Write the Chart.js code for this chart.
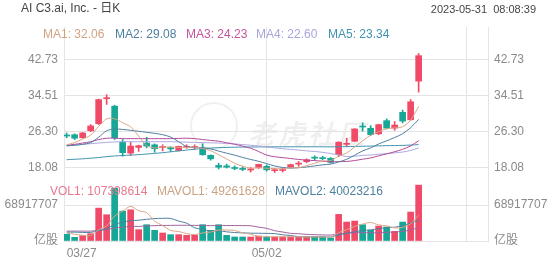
<!DOCTYPE html>
<html lang="zh">
<head>
<meta charset="UTF-8">
<title>AI C3.ai, Inc. - 日K</title>
<script src="https://cdn.jsdelivr.net/npm/chart.js"></script>
<style>
    body { margin: 0; background: #fff; font-family: 'Liberation Sans', Arial, 'Noto Sans CJK SC', sans-serif; }
    #wrap { position: relative; width: 552px; height: 265px; overflow: hidden; }
    .t { position: absolute; font-size: 12px; line-height: 14px; white-space: pre; }
    #kChart { position: absolute; left: 0; top: 0; }
    #volChart { position: absolute; left: 0; top: 180px; }
    #wm { position: absolute; left: 248px; top: 113px; font-size: 27px; font-weight: bold; font-style: italic;
          color: rgba(0,0,0,0.07); font-family: 'Noto Sans CJK SC', sans-serif; letter-spacing: 3px; }
    #wmRing { position: absolute; left: 190px; top: 102px; width: 44px; height: 44px; border-radius: 50%;
              border: 2px solid rgba(0,0,0,0.06); }
</style>
</head>
<body>
<div id="wrap">
    <div id="wmRing"></div>
    <div id="wm">老虎社区</div>
    <canvas id="kChart" width="552" height="180"></canvas>
    <canvas id="volChart" width="552" height="85"></canvas>

    <div class="t" style="left:21px;top:1px;color:#444">AI C3.ai, Inc. - 日K</div>
    <div class="t" style="right:16px;top:2px;color:#444;font-size:11px">2023-05-31  08:08:39</div>

    <div class="t" style="left:43px;top:27px;color:#d2a27f">MA1: 32.06</div>
    <div class="t" style="left:115px;top:27px;color:#4d7f9f">MA2: 29.08</div>
    <div class="t" style="left:186px;top:27px;color:#c2559a">MA3: 24.23</div>
    <div class="t" style="left:256px;top:27px;color:#a6a6dc">MA4: 22.60</div>
    <div class="t" style="left:328px;top:27px;color:#3f93b0">MA5: 23.34</div>

    <div class="t" style="left:50px;top:184px;color:#e8788c">VOL1: 107398614</div>
    <div class="t" style="left:157px;top:184px;color:#c9a283">MAVOL1: 49261628</div>
    <div class="t" style="left:275px;top:184px;color:#4d7f9f">MAVOL2: 40023216</div>
</div>

<script>
    // 交易日
    const dates = ['03/27','03/28','03/29','03/30','03/31','04/03','04/04','04/05','04/06','04/10',
                   '04/11','04/12','04/13','04/14','04/17','04/18','04/19','04/20','04/21','04/24',
                   '04/25','04/26','04/27','04/28','05/01','05/02','05/03','05/04','05/05','05/08',
                   '05/09','05/10','05/11','05/12','05/15','05/16','05/17','05/18','05/19','05/22',
                   '05/23','05/24','05/25','05/26','05/30'];

    // K线 (开 高 低 收)
    const opens  = [25.5,25.6,24.9,26.5,28.1,33.8,32.1,23.9,21.4,22.7,23.7,23.3,22.7,22.7,22.0,22.7,22.7,22.35,20.9,18.6,
                    18.5,18.1,17.9,17.55,18.16,18.4,17.4,17.45,18.23,18.9,19.45,20.35,20.3,20.2,21.05,23.4,24.1,27.45,27.06,25.8,
                    28.8,27.1,30.7,29.0,37.8];
    const highs  = [26.0,25.8,26.1,27.9,33.7,34.7,32.3,24.5,23.9,23.2,25.0,23.5,23.3,22.9,23.0,23.3,23.3,23.56,21.0,19.1,
                    18.9,18.5,18.3,18.1,18.9,18.7,17.9,17.9,18.9,19.5,20.1,20.8,20.7,20.4,24.0,24.8,27.0,28.3,27.67,28.0,
                    29.2,28.6,31.2,33.6,44.1];
    const lows   = [24.9,24.5,24.8,26.3,27.9,32.5,24.5,20.7,20.9,21.8,22.6,21.6,21.9,21.8,21.9,22.5,22.2,20.9,19.8,17.8,
                    18.0,17.6,17.4,17.1,17.9,17.3,17.0,17.1,18.0,18.4,19.2,19.8,19.9,19.1,20.6,22.9,24.0,26.4,25.4,25.6,
                    26.9,26.6,28.3,28.9,35.3];
    const closes = [25.3,24.8,26.0,27.6,33.6,34.0,24.9,21.5,23.0,23.1,23.0,22.4,22.85,22.35,22.95,22.9,22.85,21.05,20.1,18.2,
                    18.2,17.9,17.7,17.7,18.84,17.6,17.5,17.55,18.77,19.0,19.9,20.25,20.15,19.3,23.9,23.6,26.9,27.35,25.6,27.9,
                    27.1,27.8,28.7,33.1,43.6];

    // 均线
    const ma1 = [23.3,23.8,24.6,25.5,27.46,29.2,29.22,28.32,27.4,25.3,23.1,22.6,22.87,22.74,22.71,22.69,22.78,22.42,21.97,21.02,
                 20.08,19.09,18.42,17.94,18.07,17.95,17.87,17.84,18.05,18.08,18.54,19.09,19.61,19.72,20.7,21.44,22.77,24.21,25.47,26.27,
                 26.97,27.15,27.42,28.92,32.06];
    const ma2 = [23.1,23.2,23.4,23.8,25.0,26.5,26.9,26.8,26.6,26.38,26.15,25.91,25.6,25.07,24.0,22.9,22.69,22.65,22.36,21.87,
                 21.39,20.94,20.42,19.96,19.54,19.01,18.48,18.13,18.0,18.08,18.25,18.48,18.73,18.89,19.39,19.99,20.93,21.91,22.6,23.49,
                 24.2,24.96,25.82,27.2,29.08];
    const ma3 = [23.2,23.4,23.7,24.0,24.5,24.8,24.8,24.7,24.7,24.7,24.7,24.7,24.7,24.7,24.75,24.8,24.7,24.5,24.3,24.12,
                 23.76,23.42,23.0,22.51,21.77,20.95,20.58,20.38,20.17,19.97,19.81,19.7,19.57,19.42,19.46,19.5,19.71,20.02,20.3,20.78,
                 21.23,21.72,22.27,23.04,24.23];
    const ma4 = [23.0,23.2,23.4,23.55,23.7,23.85,23.95,24.0,24.0,24.0,24.0,24.0,24.0,24.0,23.95,23.9,23.85,23.8,23.75,23.7,
                 23.6,23.5,23.35,23.2,23.0,22.8,22.6,22.4,22.25,22.1,21.92,21.77,21.58,21.3,20.98,20.63,20.7,20.89,20.98,21.14,
                 21.28,21.46,21.65,22.01,22.6];
    const ma5 = [19.9,20.0,20.1,20.25,20.4,20.6,20.75,20.85,20.95,21.05,21.2,21.35,21.5,21.7,21.9,22.1,22.3,22.45,22.55,22.65,
                 22.7,22.75,22.78,22.8,22.82,22.83,22.84,22.85,22.85,22.85,22.85,22.85,22.85,22.83,22.85,22.88,22.92,22.97,23.0,23.05,
                 23.1,23.12,23.17,23.24,23.34];

    // 成交量
    const volumes = [12.8e6,7.1e6,10.3e6,14.1e6,63.2e6,50.5e6,101.5e6,57.5e6,60.0e6,21.8e6,31.3e6,20.5e6,15.4e6,12.2e6,12.2e6,10.9e6,10.9e6,31.3e6,20.5e6,31.3e6,
                     10.9e6,7.7e6,7.7e6,7.7e6,9.6e6,8.0e6,7.7e6,7.7e6,7.7e6,7.7e6,7.7e6,7.7e6,7.7e6,5.8e6,51.1e6,36.4e6,38.3e6,31.3e6,20.5e6,28.7e6,
                     26.9e6,18.5e6,36.4e6,55.6e6,107398614];
    const mavol1 = [15.0e6,13.0e6,11.0e6,10.5e6,21.5e6,29.0e6,47.9e6,57.4e6,66.5e6,58.3e6,54.4e6,38.2e6,29.8e6,20.2e6,18.3e6,14.2e6,12.3e6,15.5e6,17.2e6,21.0e6,
                    21.0e6,20.3e6,15.6e6,13.1e6,8.7e6,8.1e6,8.1e6,8.1e6,8.1e6,7.8e6,7.7e6,7.7e6,7.7e6,7.3e6,16.0e6,21.7e6,27.9e6,32.6e6,35.5e6,31.0e6,
                    29.1e6,25.2e6,26.2e6,33.2e6,49261628];
    const mavol2 = [17.0e6,17.0e6,16.5e6,16.5e6,20.0e6,24.0e6,32.0e6,36.0e6,39.0e6,39.9e6,41.7e6,43.1e6,43.6e6,43.4e6,38.3e6,34.3e6,25.3e6,22.7e6,18.7e6,19.7e6,
                    17.6e6,16.3e6,15.6e6,15.1e6,14.9e6,14.6e6,14.2e6,11.9e6,10.6e6,8.2e6,7.9e6,7.9e6,7.9e6,7.7e6,11.9e6,14.7e6,17.8e6,20.1e6,21.4e6,23.5e6,
                    25.4e6,26.5e6,29.4e6,34.4e6,40023216];
    const mavol3 = [19.0e6,19.0e6,19.0e6,19.0e6,20.5e6,22.0e6,25.0e6,26.5e6,28.0e6,28.0e6,29.0e6,29.5e6,29.8e6,30.0e6,30.2e6,30.2e6,30.0e6,30.0e6,29.5e6,29.8e6,
                    29.7e6,29.7e6,29.6e6,29.3e6,26.6e6,24.4e6,19.8e6,17.3e6,14.7e6,13.9e6,12.8e6,12.1e6,11.7e6,11.4e6,13.4e6,14.6e6,16.0e6,16.0e6,16.0e6,15.9e6,
                    16.7e6,17.2e6,18.7e6,21.1e6,25.9e6];

    // 刻度
    const priceTicks = [18.08, 26.30, 34.51, 42.73];
    const volTicks = [0, 68917707];
    const volTickLabels = ['亿股', '68917707'];
    const dateTickIdx = [0, 25, 50];

    const RED = '#f04a68';
    const GREEN = '#17a797';
    const GRID = '#e4e4e4';
    const LABEL = '#8a8a8a';
    const candleColors = opens.map((o, i) => closes[i] >= o ? RED : GREEN);

    // 不让刻度文字撑开绘图区
    const noPad = s => { s.paddingTop = 0; s.paddingBottom = 0; s.paddingLeft = 0; s.paddingRight = 0; };

    const xScale = (showLabels) => ({
        type: 'linear', min: -0.33, max: 52.67, offset: false,
        afterBuildTicks: s => { s.ticks = dateTickIdx.map(v => ({ value: v })); },
        afterFit: s => { s.height = showLabels ? 24 : 0; noPad(s); },
        grid: { color: c => (c.tick && c.tick.value === 0) ? 'rgba(0,0,0,0)' : GRID, drawTicks: false, offset: false },
        border: { display: showLabels, color: GRID },
        ticks: {
            display: showLabels, autoSkip: false, maxRotation: 0, align: 'inner', padding: 5,
            color: LABEL, font: { size: 12, family: "'Liberation Sans', Arial" },
            callback: v => dates[v] || ''
        }
    });

    const yScale = (pos, ticks, labels, min, max, grid) => ({
        position: pos, min: min, max: max,
        afterBuildTicks: s => { s.ticks = ticks.map(v => ({ value: v })); },
        afterFit: s => { s.width = 64; noPad(s); },
        grid: { display: grid, color: GRID, drawTicks: false },
        border: { display: true, color: GRID },
        ticks: {
            padding: 6, color: LABEL,
            font: { size: 12, family: "'Liberation Sans', Arial, 'Noto Sans CJK SC'" },
            callback: v => labels ? labels[ticks.indexOf(v)] : v.toFixed(2)
        }
    });

    const line = (label, arr, color) => ({
        type: 'line', label: label, order: 0,
        data: arr.map((v, i) => ({ x: i, y: v })),
        borderColor: color, borderWidth: 1, pointRadius: 0, tension: 0.3
    });

    const pts = (a, b) => dates.map((d, i) => ({ x: i, y: [a[i], b[i]] }));

    new Chart(document.getElementById('kChart'), {
        type: 'bar',
        data: {
            datasets: [
                line('MA1', ma1, '#d9a585'),
                line('MA2', ma2, '#4d7f9f'),
                line('MA3', ma3, '#b4489a'),
                line('MA4', ma4, '#aaa6e0'),
                line('MA5', ma5, '#3f93b0'),
                { label: 'wick', order: 1, data: pts(lows, highs), backgroundColor: candleColors,
                  barThickness: 1, grouped: false },
                { label: 'body', order: 1, data: pts(opens, closes), backgroundColor: candleColors,
                  barThickness: 6, minBarLength: 1, grouped: false }
            ]
        },
        options: {
            responsive: false, animation: false,
            layout: { padding: { top: 27, left: 0, right: 0, bottom: 0 } },
            plugins: { legend: { display: false }, tooltip: { enabled: false } },
            scales: {
                x: xScale(false),
                y: yScale('left', priceTicks, null, 15.28, 50.13, true),
                y2: yScale('right', priceTicks, null, 15.28, 50.13, false)
            }
        }
    });

    new Chart(document.getElementById('volChart'), {
        type: 'bar',
        data: {
            datasets: [
                line('MAVOL1', mavol1, '#d9a585'),
                line('MAVOL2', mavol2, '#4d7f9f'),
                line('MAVOL3', mavol3, '#a0609e'),
                { label: 'VOL', order: 1, data: volumes.map((v, i) => ({ x: i, y: v })),
                  backgroundColor: candleColors, barThickness: 6, grouped: false }
            ]
        },
        options: {
            responsive: false, animation: false,
            layout: { padding: 0 },
            plugins: { legend: { display: false }, tooltip: { enabled: false } },
            scales: {
                x: xScale(true),
                y: yScale('left', volTicks, volTickLabels, 0, 117.2e6, true),
                y2: yScale('right', volTicks, volTickLabels, 0, 117.2e6, false)
            }
        }
    });
</script>
</body>
</html>
